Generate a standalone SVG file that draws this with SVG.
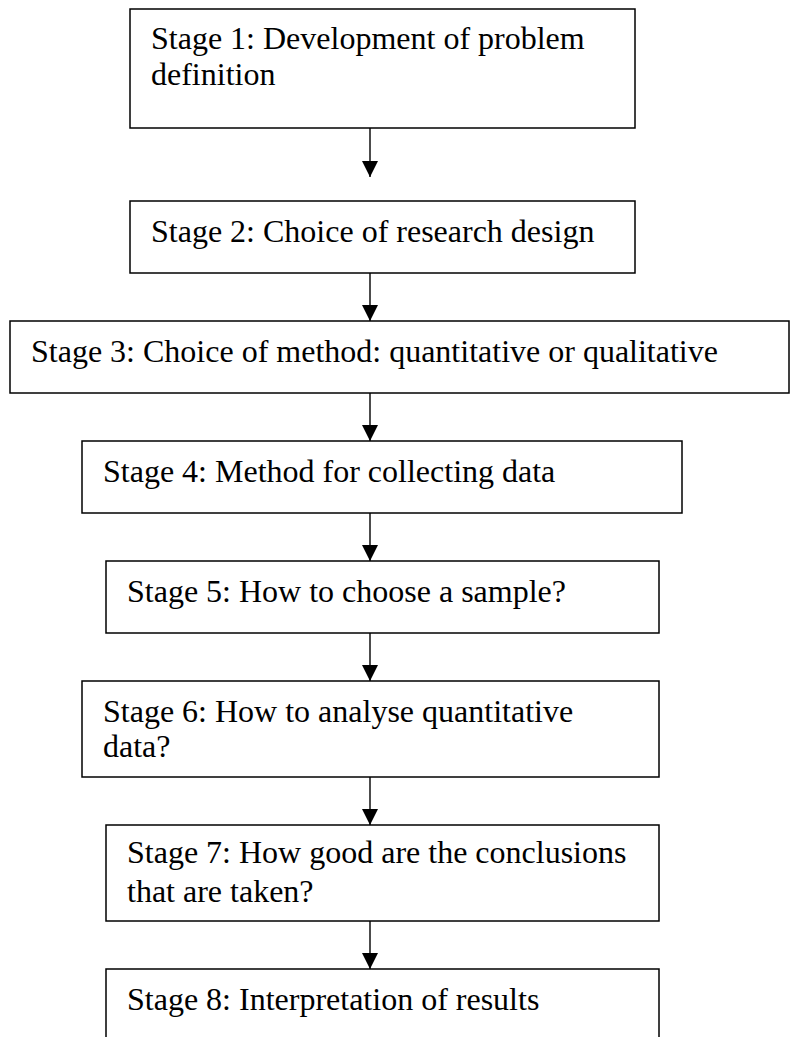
<svg xmlns="http://www.w3.org/2000/svg" width="790" height="1037" viewBox="0 0 790 1037">
  <style>
    .box { fill: #ffffff; stroke: #000000; stroke-width: 1.5; }
    .lbl { font-family: "Liberation Serif", "Times New Roman", serif; font-size: 32px; fill: #000000; }
    .link { stroke: #000000; stroke-width: 1.4; fill: none; }
  </style>
  <defs>
    <marker id="head" viewBox="0 0 16 16" refX="16" refY="8" markerWidth="16" markerHeight="16" markerUnits="userSpaceOnUse" orient="auto">
      <path d="M0,0 L16,8 L0,16 Z" fill="#000000"/>
    </marker>
  </defs>
  <rect width="790" height="1037" fill="#ffffff"/>

  <g id="connectors">
    <line class="link" x1="370" y1="128" x2="370" y2="177" marker-end="url(#head)"/>
    <line class="link" x1="370" y1="273" x2="370" y2="321" marker-end="url(#head)"/>
    <line class="link" x1="370" y1="393" x2="370" y2="441" marker-end="url(#head)"/>
    <line class="link" x1="370" y1="513" x2="370" y2="561" marker-end="url(#head)"/>
    <line class="link" x1="370" y1="633" x2="370" y2="681" marker-end="url(#head)"/>
    <line class="link" x1="370" y1="777" x2="370" y2="825" marker-end="url(#head)"/>
    <line class="link" x1="370" y1="921" x2="370" y2="969" marker-end="url(#head)"/>
  </g>

  <g id="stage1">
    <rect class="box" x="130" y="9" width="505" height="119"/>
    <text class="lbl" x="151" y="49">Stage 1: Development of problem</text>
    <text class="lbl" x="151" y="85">definition</text>
  </g>
  <g id="stage2">
    <rect class="box" x="130" y="201" width="505" height="72"/>
    <text class="lbl" x="151" y="242">Stage 2: Choice of research design</text>
  </g>
  <g id="stage3">
    <rect class="box" x="10" y="321" width="779" height="72"/>
    <text class="lbl" x="31" y="362">Stage 3: Choice of method: quantitative or qualitative</text>
  </g>
  <g id="stage4">
    <rect class="box" x="82" y="441" width="600" height="72"/>
    <text class="lbl" x="103" y="482">Stage 4: Method for collecting data</text>
  </g>
  <g id="stage5">
    <rect class="box" x="106" y="561" width="553" height="72"/>
    <text class="lbl" x="127" y="602">Stage 5: How to choose a sample?</text>
  </g>
  <g id="stage6">
    <rect class="box" x="82" y="681" width="577" height="96"/>
    <text class="lbl" x="103" y="722">Stage 6: How to analyse quantitative</text>
    <text class="lbl" x="103" y="757">data?</text>
  </g>
  <g id="stage7">
    <rect class="box" x="106" y="825" width="553" height="96"/>
    <text class="lbl" x="127" y="863">Stage 7: How good are the conclusions</text>
    <text class="lbl" x="127" y="902">that are taken?</text>
  </g>
  <g id="stage8">
    <rect class="box" x="106" y="969" width="553" height="96"/>
    <text class="lbl" x="127" y="1010">Stage 8: Interpretation of results</text>
  </g>
</svg>
